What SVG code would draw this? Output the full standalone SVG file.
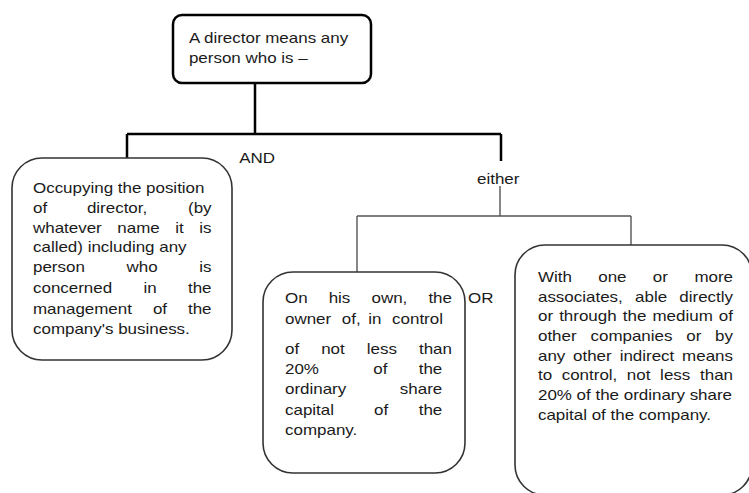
<svg xmlns="http://www.w3.org/2000/svg" width="749" height="493" viewBox="0 0 749 493">
<style>
.t{font-family:"Liberation Sans",Arial,sans-serif;font-size:14.5px;fill:#1a1a1a}
.e{text-anchor:end}
.thick{stroke:#000;stroke-width:2.5;fill:none}
.thin{stroke:#555;stroke-width:1.4;fill:none}
.box{fill:#fff;stroke:#333;stroke-width:1.6}
</style>
<rect width="749" height="493" fill="#fff"/>
<g id="connectors">
<path class="thick" d="M255,83 V134 M127,134 H501 M127,134 V159 M501,134 V161"/>
<path class="thin" d="M500,186 V216 M357,216 H631 M357,216 V272 M631,216 V245"/>
<g transform="scale(1.17 1)">
<text class="t" x="204.5" y="163">AND</text>
<text class="t" x="407.7" y="184">either</text>
<text class="t" x="400" y="303">OR</text>
</g>
</g>
<g id="top">
<rect x="173" y="15" width="198" height="68" rx="9" fill="#fff" stroke="#000" stroke-width="2.5"/>
<g transform="scale(1.17 1)">
<text class="t" x="161.5" y="43">A director means any</text>
<text class="t" x="161.5" y="63">person who is –</text>
</g>
</g>
<g id="left">
<rect class="box" x="12" y="158" width="220" height="202" rx="30"/>
<g transform="scale(1.17 1)">
<text class="t" x="28.2" y="193">Occupying the position</text>
<text class="t" x="28.2" y="213">of</text><text class="t" x="74.3" y="213">director,</text><text class="t e" x="180.8" y="213">(by</text>
<text class="t" x="28.2" y="233">whatever</text><text class="t" x="100.3" y="233">name</text><text class="t" x="149.7" y="233">it</text><text class="t e" x="180.8" y="233">is</text>
<text class="t" x="28.2" y="252">called) including any</text>
<text class="t" x="28.2" y="272">person</text><text class="t" x="108.1" y="272">who</text><text class="t e" x="180.8" y="272">is</text>
<text class="t" x="28.2" y="293">concerned</text><text class="t" x="122.6" y="293">in</text><text class="t e" x="180.8" y="293">the</text>
<text class="t" x="28.2" y="314">management</text><text class="t" x="130.7" y="314">of</text><text class="t e" x="180.8" y="314">the</text>
<text class="t" x="28.2" y="334">company's business.</text>
</g>
</g>
<g id="middle">
<rect class="box" x="263" y="272" width="202" height="201" rx="30"/>
<g transform="scale(1.17 1)">
<text class="t" x="243.6" y="303">On</text><text class="t" x="280.9" y="303">his</text><text class="t" x="317.5" y="303">own,</text><text class="t e" x="386.3" y="303">the</text>
<text class="t" x="243.6" y="324">owner</text><text class="t" x="292.1" y="324">of,</text><text class="t" x="314.8" y="324">in</text><text class="t" x="335.1" y="324">control</text>
<text class="t" x="243.6" y="354">of</text><text class="t" x="274.5" y="354">not</text><text class="t" x="313.5" y="354">less</text><text class="t e" x="386.3" y="354">than</text>
<text class="t" x="243.6" y="374">20%</text><text class="t" x="319.1" y="374">of</text><text class="t e" x="378" y="374">the</text>
<text class="t" x="243.6" y="394">ordinary</text><text class="t e" x="378" y="394">share</text>
<text class="t" x="243.6" y="415">capital</text><text class="t" x="319.7" y="415">of</text><text class="t e" x="378" y="415">the</text>
<text class="t" x="243.6" y="435">company.</text>
</g>
</g>
<g id="right">
<rect class="box" x="515" y="245" width="237" height="250" rx="30"/>
<g transform="scale(1.17 1)">
<text class="t" x="459.8" y="282">With</text><text class="t" x="511.3" y="282">one</text><text class="t" x="557.9" y="282">or</text><text class="t e" x="626.5" y="282">more</text>
<text class="t" x="459.8" y="302">associates,</text><text class="t" x="542.8" y="302">able</text><text class="t e" x="626.5" y="302">directly</text>
<text class="t" x="459.8" y="321">or</text><text class="t" x="477.9" y="321">through</text><text class="t" x="532.3" y="321">the</text><text class="t" x="557.7" y="321">medium</text><text class="t e" x="626.5" y="321">of</text>
<text class="t" x="459.8" y="341">other</text><text class="t" x="504.7" y="341">companies</text><text class="t" x="586.6" y="341">or</text><text class="t e" x="626.5" y="341">by</text>
<text class="t" x="459.8" y="361">any</text><text class="t" x="489.8" y="361">other</text><text class="t" x="529.6" y="361">indirect</text><text class="t e" x="626.5" y="361">means</text>
<text class="t" x="459.8" y="380">to</text><text class="t" x="480.1" y="380">control,</text><text class="t" x="535.8" y="380">not</text><text class="t" x="564.2" y="380">less</text><text class="t e" x="626.5" y="380">than</text>
<text class="t" x="459.8" y="400">20% of the ordinary share</text>
<text class="t" x="459.8" y="420">capital of the company.</text>
</g>
</g>
</svg>
